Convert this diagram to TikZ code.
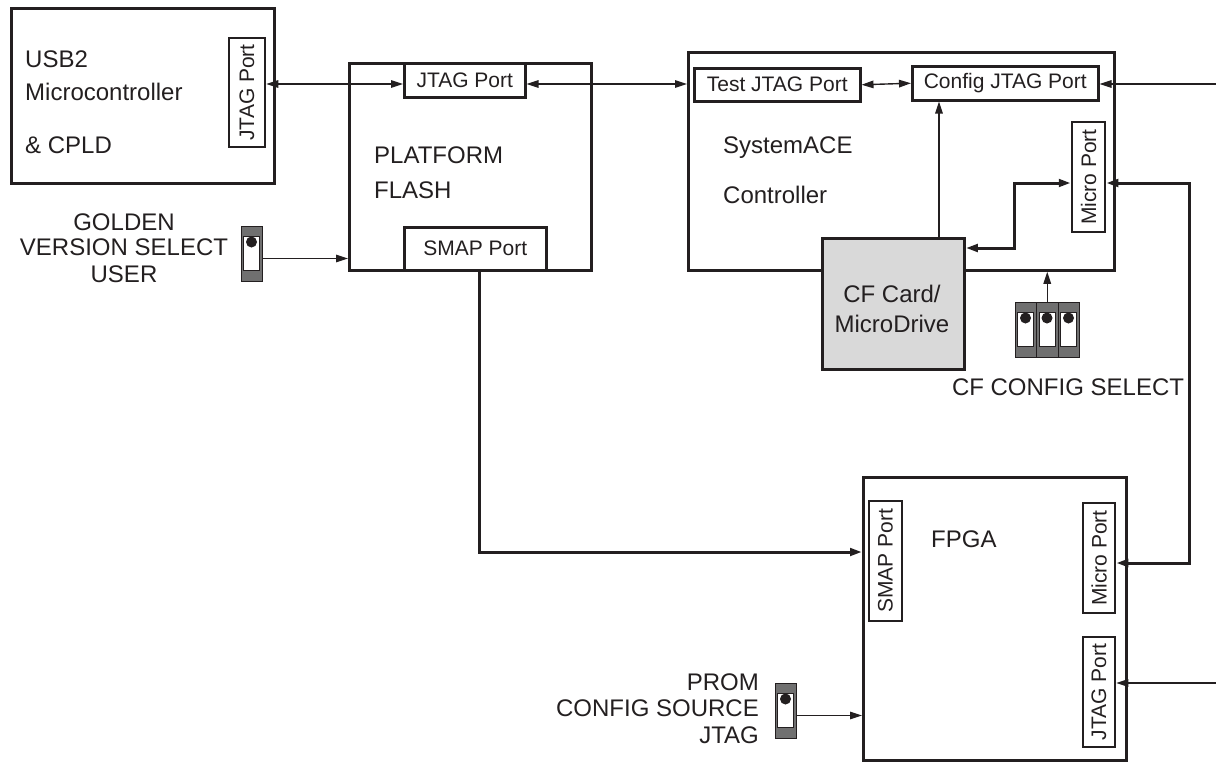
\documentclass[tikz,border=0pt]{standalone}
\usepackage{fontspec}
\setmainfont{Liberation Sans}
\usetikzlibrary{arrows.meta,calc}
\definecolor{ink}{RGB}{35,31,32}
\definecolor{cfgray}{RGB}{217,217,217}
\definecolor{swgray}{RGB}{112,112,112}
\tikzset{
  switch/.pic={
    \filldraw[fill=swgray, draw=ink, line width=0.9pt] (0,0) rectangle (21.5,55);
    \filldraw[fill=white, draw=ink, line width=0.9pt] (2.5,10.5) rectangle (18.5,44);
    \fill[ink] (10.5,16) circle (5.5pt);
    \coordinate (-out) at (21.5,32.5);
    \coordinate (-top) at (10.75,0);
  }
}
\begin{document}
\begin{tikzpicture}[x=1pt,y=-1pt,
  >={Triangle[length=12pt,width=7.5pt]},
  blk/.style={draw=ink, line width=2.8pt, inner sep=0pt, anchor=north west},
  port/.style={draw=ink, line width=2.5pt, inner sep=0pt, text=ink, font=\fontsize{21}{24}\selectfont},
  vport/.style={port, rotate=90},
  lbl/.style={inner sep=0pt, text=ink, font=\fontsize{24}{28}\selectfont},
  conn/.style={draw=ink, line width=1.4pt},
  bus/.style={draw=ink, line width=3pt},
]
\useasboundingbox (0,0) rectangle (1216,761);

% main blocks
\node[blk, minimum width=263pt, minimum height=175pt] (usb) at (10,7) {};
\node[blk, minimum width=242pt, minimum height=207pt] (pf) at (348,62) {};
\node[blk, minimum width=426pt, minimum height=218pt] (ace) at (687,51) {};
\node[blk, minimum width=263pt, minimum height=283pt] (fpga) at (862,476) {};
\node[blk, fill=cfgray, minimum width=142pt, minimum height=131pt] (cf) at (821,237) {};

% block texts
\node[lbl, anchor=base west] (t1) at (25,67) {USB2};
\node[lbl, anchor=base west] (t2) at (25,100) {Microcontroller};
\node[lbl, anchor=base west] (t3) at (25,153) {\& CPLD};
\node[lbl, anchor=base west] (t4) at (374,163) {PLATFORM};
\node[lbl, anchor=base west] (t5) at (374,198) {FLASH};
\node[lbl, anchor=base west] (t6) at (723,153) {SystemACE};
\node[lbl, anchor=base west] (t7) at (723,203) {Controller};
\node[lbl, anchor=base] (t8) at (892,302) {CF Card/};
\node[lbl, anchor=base] (t9) at (892,332) {MicroDrive};
\node[lbl, anchor=base west] (t10) at (931,547) {FPGA};
\node[lbl, anchor=base] (t11) at (1068,395) {CF CONFIG SELECT};
\node[lbl, anchor=base] (t12) at (124,230) {GOLDEN};
\node[lbl, anchor=base] (t13) at (124,255) {VERSION SELECT};
\node[lbl, anchor=base] (t14) at (124,282) {USER};
\node[lbl, anchor=base east] (t15) at (759,690) {PROM};
\node[lbl, anchor=base east] (t16) at (759,716) {CONFIG SOURCE};
\node[lbl, anchor=base east] (t17) at (759,743) {JTAG};

% ports
\node[port, anchor=north west, minimum width=121pt, minimum height=34pt] (pfj) at (403,62) {JTAG Port};
\node[port, anchor=north west, minimum width=142pt, minimum height=43pt] (pfs) at (403,226) {SMAP Port};
\node[port, anchor=north west, minimum width=166pt, minimum height=33pt] (test) at (693,67) {Test JTAG Port};
\node[port, anchor=north west, minimum width=186pt, minimum height=34pt] (cfgj) at (911,65) {Config JTAG Port};
\node[vport, minimum width=109pt, minimum height=36pt] (usbj) at (247,92.5) {JTAG Port};
\node[vport, minimum width=110pt, minimum height=33pt] (acemp) at (1088.5,177) {Micro Port};
\node[vport, minimum width=120pt, minimum height=33pt] (fsmap) at (885.5,561) {SMAP Port};
\node[vport, minimum width=110pt, minimum height=32pt] (fmp) at (1099,558) {Micro Port};
\node[vport, minimum width=110pt, minimum height=32pt] (fjtag) at (1099,692) {JTAG Port};

% switches
\pic (gsw) at (241,226) {switch};
\pic (psw) at (775,683) {switch};
\pic (c1) at (1015,302) {switch};
\pic (c2) at (1036.5,302) {switch};
\pic (c3) at (1058,302) {switch};

% helper coordinates
\coordinate (jrow) at (0,84);
\coordinate (jin) at (1216,84);
\coordinate (cfup) at (939,237);
\coordinate (mrow) at (0,183);
\coordinate (cfrow) at (0,248);
\coordinate (bx) at (1014,0);
\coordinate (rb1) at (1189,183);
\coordinate (rb2) at (1189,563);
\coordinate (sx) at (479,0);
\coordinate (srow) at (0,552);
\coordinate (fjin) at (1216,683);

% connectors
\draw[conn,<->] (usbj.south |- jrow) -- (pfj.west |- jrow);
\draw[conn,<->] (pfj.east |- jrow) -- (ace.west |- jrow);
\draw[conn,<->] (test.east) -- (cfgj.west);
\draw[conn,->] (jin) -- (cfgj.east |- jin);
\draw[conn,->] (cf.north -| cfup) -- (cfgj.south -| cfup);
\draw[bus,<->] (acemp.north |- mrow) -| (bx |- cfrow) -- (cf.east |- cfrow);
\draw[bus,<->] (acemp.south |- rb1) -- (rb1) -- (rb2) -- (fmp.south |- rb2);
\draw[bus,->] (pfs.south -| sx) |- (fpga.west |- srow);
\draw[conn,->] (fjin) -- (fjtag.south |- fjin);
\draw[conn,->] (gsw-out) -- (pf.west |- gsw-out);
\draw[conn,->] (psw-out) -- (fpga.west |- psw-out);
\draw[conn,->] (c2-top) -- (ace.south -| c2-top);
\end{tikzpicture}
\end{document}
